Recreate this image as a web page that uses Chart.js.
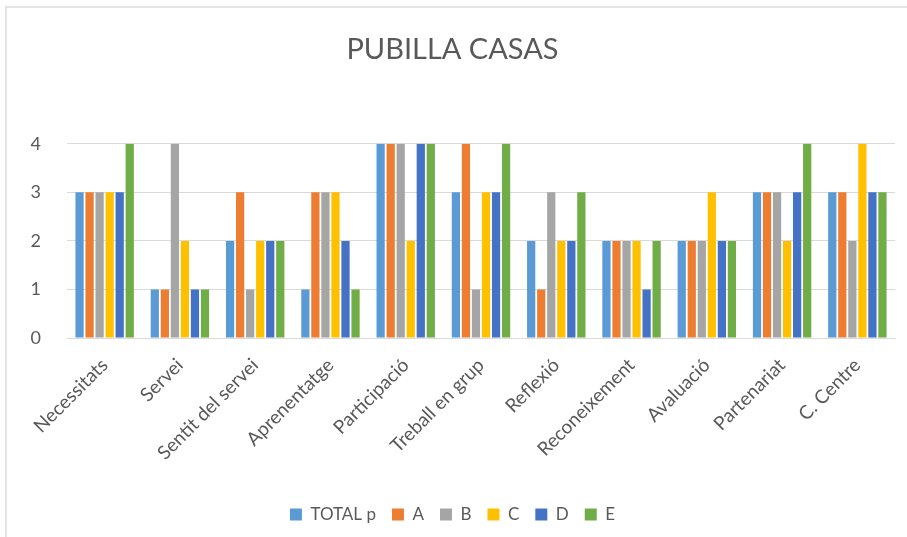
<!DOCTYPE html>
<html>
<head>
<meta charset="utf-8">
<script src="https://cdn.jsdelivr.net/npm/chart.js@4/dist/chart.umd.min.js"></script>
<style>
  html, body { margin: 0; padding: 0; background: #fff; }
  #wrap { position: relative; width: 907px; height: 537px; }
  #frame { position: absolute; left: 5px; top: 6px; right: 0; bottom: 0;
           border-left: 2px solid #e4e4e4; border-top: 2px solid #e4e4e4; pointer-events: none; }
</style>
</head>
<body>
<div id="wrap">
  <canvas id="pubillaChart" width="907" height="537"></canvas>
  <div id="frame"></div>
</div>
<script>
const categories = ['Necessitats', 'Servei', 'Sentit del servei', 'Aprenentatge', 'Participació',
    'Treball en grup', 'Reflexió', 'Reconeixement', 'Avaluació', 'Partenariat', 'C. Centre'];
const totalP = [3, 1, 2, 1, 4, 3, 2, 2, 2, 3, 3];
const seriesA = [3, 1, 3, 3, 4, 4, 1, 2, 2, 3, 3];
const seriesB = [3, 4, 1, 3, 4, 1, 3, 2, 2, 3, 2];
const seriesC = [3, 2, 2, 3, 2, 3, 2, 2, 3, 2, 4];
const seriesD = [3, 1, 2, 2, 4, 3, 2, 1, 2, 3, 3];
const seriesE = [4, 1, 2, 1, 4, 4, 3, 2, 2, 4, 3];
const yTicks = [0, 1, 2, 3, 4];

const textColor = '#595959';
const fontFamily = 'Lato, "Open Sans", sans-serif';

function bar(label, data, color) {
    return {
        label: label,
        data: data,
        backgroundColor: color,
        borderWidth: 0,
        barPercentage: 0.82,
        categoryPercentage: 0.8
    };
}

document.addEventListener('DOMContentLoaded', function () {
    const ctx = document.getElementById('pubillaChart').getContext('2d');
    new Chart(ctx, {
        type: 'bar',
        data: {
            labels: categories,
            datasets: [
                bar('TOTAL p', totalP, '#5B9BD5'),
                bar('A', seriesA, '#ED7D31'),
                bar('B', seriesB, '#A5A5A5'),
                bar('C', seriesC, '#FFC000'),
                bar('D', seriesD, '#4472C4'),
                bar('E', seriesE, '#70AD47')
            ]
        },
        options: {
            responsive: false,
            animation: false,
            devicePixelRatio: 1,
            layout: { padding: { left: 10, right: 12, top: 0, bottom: 4 } },
            plugins: {
                title: {
                    display: true,
                    text: 'PUBILLA CASAS',
                    color: textColor,
                    font: { family: fontFamily, size: 29, weight: 'normal', lineHeight: 1.2 },
                    padding: { top: 32, bottom: 77 }
                },
                legend: {
                    position: 'bottom',
                    labels: {
                        color: textColor,
                        font: { family: fontFamily, size: 17 },
                        boxWidth: 12,
                        boxHeight: 12,
                        padding: 16
                    }
                },
                tooltip: { enabled: false }
            },
            scales: {
                x: {
                    grid: { display: false },
                    border: { color: '#d9d9d9' },
                    ticks: {
                        color: textColor,
                        font: { family: fontFamily, size: 19 },
                        maxRotation: 45,
                        minRotation: 45,
                        padding: 8
                    },
                    afterFit: function (scale) { scale.height = 152; }
                },
                y: {
                    min: 0,
                    max: 4,
                    afterBuildTicks: function (scale) {
                        scale.ticks = yTicks.map(function (v) { return { value: v }; });
                    },
                    grid: { color: '#d9d9d9', drawTicks: false },
                    border: { display: false },
                    ticks: {
                        color: textColor,
                        font: { family: fontFamily, size: 18 },
                        padding: 26
                    },
                    afterFit: function (scale) { scale.width = 57; }
                }
            }
        }
    });
});
</script>
</body>
</html>
